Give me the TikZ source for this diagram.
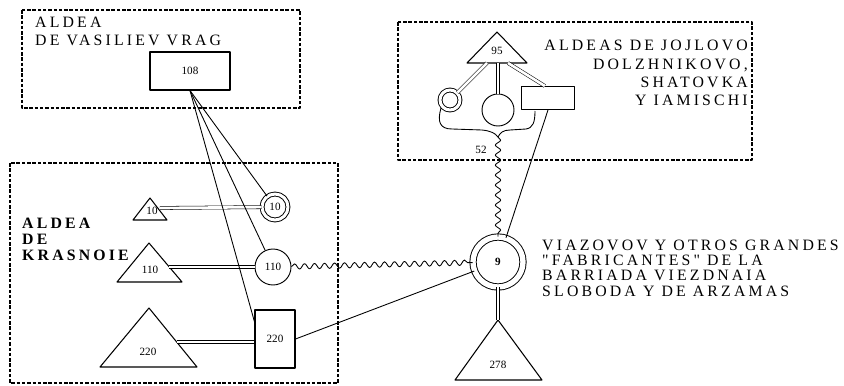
\documentclass[tikz,border=0pt]{standalone}
\usepackage{fontspec}
\newfontfamily\labfont[LetterSpace=20]{Liberation Serif}
\newfontfamily\numfont{Liberation Serif}
\usetikzlibrary{decorations.pathmorphing,calc}

\begin{document}
\begin{tikzpicture}[x=0.3mm, y=-0.3mm, line join=round,
    zone/.style={draw, line width=0.9pt, dash pattern=on 3pt off 1.5pt},
    lab/.style={font=\labfont\fontsize{13.5}{15.5}\selectfont, inner sep=0pt},
    num/.style={font=\numfont\fontsize{9.5}{10}\selectfont, inner sep=0pt},
    box/.style={draw, line width=0.9pt, inner sep=0pt},
    ring/.style={draw, circle, line width=0.8pt, inner sep=0pt},
    dring/.style={ring, double, double distance=1mm},
    tri/.style={draw, line width=0.9pt},
    link/.style={double, double distance=0.8mm, line width=0.45pt},
    tie/.style={line width=0.75pt},
    wave/.style={line width=0.75pt, decorate, decoration={snake, segment length=3mm, amplitude=0.8mm}}]
  \useasboundingbox (0,0) rectangle (844,386);

  % the three zones
  \draw[zone] (22,10) rectangle (300,108);
  \draw[zone] (398,22) rectangle (752,160);
  \draw[zone] (10,163) rectangle (338,383);

  \node[lab, anchor=west, align=left] (vrag) at (35,31) {ALDEA\\DE VASILIEV VRAG};
  \node[lab, anchor=east, align=right] (jojlovo) at (748,73) {ALDEAS DE JOJLOVO\\DOLZHNIKOVO,\\SHATOVKA\\Y IAMISCHI};
  \node[lab, font=\labfont\bfseries\fontsize{13.5}{13.6}\selectfont, anchor=west, align=left] (krasnoie) at (22,239) {ALDEA\\DE\\KRASNOIE};
  \node[lab, font=\labfont\fontsize{13.5}{13}\selectfont, anchor=west, align=left] (viazovov) at (542,268) {VIAZOVOV Y OTROS GRANDES\\"FABRICANTES" DE LA\\BARRIADA VIEZDNAIA\\SLOBODA Y DE ARZAMAS};

  % Vasiliev Vrag
  \node[box, num, minimum width=24mm, minimum height=11.4mm] (n108) at (190,71) {108};

  % Jojlovo group
  \draw[tri] (497,32) -- (527,63) -- (467,63) -- cycle;
  \node[num] (n95) at (497,51) {95};
  \coordinate (t95l) at (487,63); \coordinate (t95m) at (498,63); \coordinate (t95r) at (508,63);
  \node[dring, double distance=0.9mm, minimum size=6mm] (d95a) at (450,100) {};
  \node[ring, minimum size=9.6mm] (c95b) at (498,110) {};
  \node[box, minimum width=15.9mm, minimum height=6.9mm] (r95c) at (548,98) {};
  \draw[link] (t95l) -- (d95a);
  \draw[link] (t95m) -- (c95b);
  \draw[link] (t95r) -- (r95c.105);
  \draw[tie] (441,108) .. controls (437,122) and (440,129) .. (452,129) -- (482,130)
    .. controls (491,131) and (495,133) .. (498,137) coordinate (cusp)
    .. controls (500,133) and (503,130) .. (510,130) -- (526,129)
    .. controls (533,128) and (535,122) .. (535,111);
  \node[num] (n52) at (481,150) {52};

  % Viazovov
  \node[dring, double distance=1.6mm, minimum size=15mm, font=\numfont\bfseries\fontsize{9.5}{10}\selectfont] (c9) at (498,262) {9};
  \draw[tri] (498,320) coordinate (t278) -- (542,380) -- (455,380) -- cycle;
  \node[num] (n278) at (498,365) {278};
  \draw[link] (c9) -- (t278);
  \draw[wave] (cusp) -- (c9);
  \draw[tie] (r95c.south) -- (c9);

  % Krasnoie
  \draw[tri] (150,198) -- (167,220) -- (133,220) -- cycle;
  \node[num] (n10) at (152,211) {10};
  \coordinate (t10e) at (160,208);
  \node[dring, num, double distance=0.9mm, minimum size=7.8mm] (c10) at (275,207) {10};
  \draw[link] (t10e) -- (c10);

  \draw[tri] (149,243) -- (182,282) -- (117,282) -- cycle;
  \node[num] (n110) at (150,270) {110};
  \coordinate (t110e) at (169,267);
  \node[ring, num, minimum size=10.8mm] (c110) at (273,267) {110};
  \draw[link] (t110e) -- (c110);

  \draw[tri] (149,308) -- (197,367) -- (100,367) -- cycle;
  \node[num] (n220) at (148,352) {220};
  \coordinate (t220e) at (177,342);
  \node[box, num, minimum width=12mm, minimum height=17.4mm] (r220) at (275,339) {220};
  \draw[link] (t220e) -- (r220.west |- t220e);

  \draw[tie] (n108.south) -- (c10);
  \draw[tie] (n108.south) -- (c110);
  \draw[tie] (n108.south) -- (r220.140);
  \draw[wave] (c110) -- (c9);
  \draw[tie] (r220.east) -- (c9);
\end{tikzpicture}
\end{document}
